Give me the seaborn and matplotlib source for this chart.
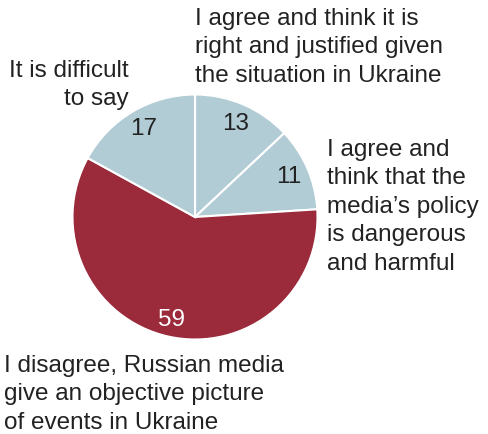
import seaborn as sns
import matplotlib.pyplot as plt

# survey answers, clockwise from the top
answers = [
    "I agree and think it is\nright and justified given\nthe situation in Ukraine",
    "I agree and\nthink that the\nmedia\u2019s policy\nis dangerous\nand harmful",
    "I disagree, Russian media\ngive an objective picture\nof events in Ukraine",
    "It is difficult\nto say",
]
shares = [13, 11, 59, 17]
colors = ["#b2ccd5", "#b2ccd5", "#9b2a3b", "#b2ccd5"]

sns.set_theme(style="white")
plt.rcParams["font.family"] = ["Liberation Sans", "DejaVu Sans"]

W, H = 488, 434
fig = plt.figure(figsize=(W / 100, H / 100), dpi=100)
ax = fig.add_axes([0, 0, 1, 1])

# pie centre at (195, 217) px, radius 122.5 px
cx, cy, r = 195, 217, 122.5

wedges, texts, nums = ax.pie(
    shares, colors=colors, startangle=90, counterclock=False,
    autopct=lambda p: f"{p:.0f}", pctdistance=0.83,
    wedgeprops=dict(edgecolor="white", linewidth=1.5),
    textprops=dict(fontsize=17.5, color="#222222"),
)
for n, s in zip(nums, shares):
    if s == max(shares):
        n.set_color("white")
        x, y = n.get_position()
        n.set_position((x * 1.04, y * 1.04))
ax.set_xlim(-cx / r, (W - cx) / r)
ax.set_ylim(-(H - cy) / r, cy / r)
ax.set_aspect("auto")
ax.axis("off")

txt = dict(fontsize=17.5, color="#222222", linespacing=1.38, va="top")
fig.text(195 / W, 1 - 8 / H, answers[0], ha="left", **txt)
fig.text(327 / W, 1 - 139 / H, answers[1], ha="left", **txt)
fig.text(4 / W, 1 - 355 / H, answers[2], ha="left", **txt)
fig.text(129 / W, 1 - 60 / H, answers[3], ha="right", multialignment="right", **txt)

plt.savefig("out.png", dpi=100)
